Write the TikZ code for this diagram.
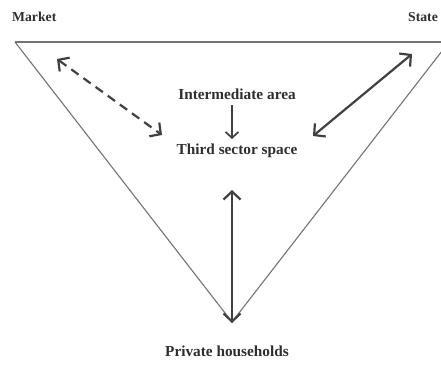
\documentclass[tikz,border=0pt]{standalone}
\usepackage{fontspec}
\setmainfont{Liberation Serif}
\usetikzlibrary{arrows.meta}
\begin{document}
\begin{tikzpicture}[x=1pt,y=-1pt,
  lbl/.style={font=\bfseries\fontsize{15.3}{18}\selectfont, text=black!82, inner sep=0pt},
  clbl/.style={font=\bfseries\fontsize{13.7}{16}\selectfont, text=black!82, inner sep=0pt},
  arr/.style={draw=black!75, line width=2.2pt, {Straight Barb[length=8pt,width=17pt]}-{Straight Barb[length=8pt,width=17pt]}},
  side/.style={draw=black!55, line width=1.1pt}]
\useasboundingbox (0,0) rectangle (441,367);
\coordinate (tl) at (15,42);
\coordinate (tr) at (449,42);
\coordinate (ap) at (232,322);
\draw[side] (tl) -- (tr);
\draw[side] (tl) -- (ap) -- (tr);
\node[clbl,anchor=west] (market) at (12,17) {Market};
\node[clbl,anchor=west] (state) at (408,17) {State};
\node[lbl] (inter) at (237,94) {Intermediate area};
\node[lbl] (third) at (237,151) {Third sector space};
\node[lbl] (priv) at (227,351) {Private households};
\coordinate (d1) at (57,59);
\coordinate (d2) at (162,135);
\coordinate (s1) at (412,54);
\coordinate (s2) at (313,136);
\coordinate (v1) at (232,190);
\coordinate (v2) at (232,323);
\draw[arr, dashed, dash pattern=on 9pt off 6pt] (d1) -- (d2);
\draw[arr] (s1) -- (s2);
\draw[arr] (v1) -- (v2);
\coordinate (i1) at (232,105);
\coordinate (i2) at (232,139);
\draw[draw=black!75, line width=1.7pt, -{Straight Barb[length=6pt,width=13pt]}] (i1) -- (i2);
\end{tikzpicture}
\end{document}
